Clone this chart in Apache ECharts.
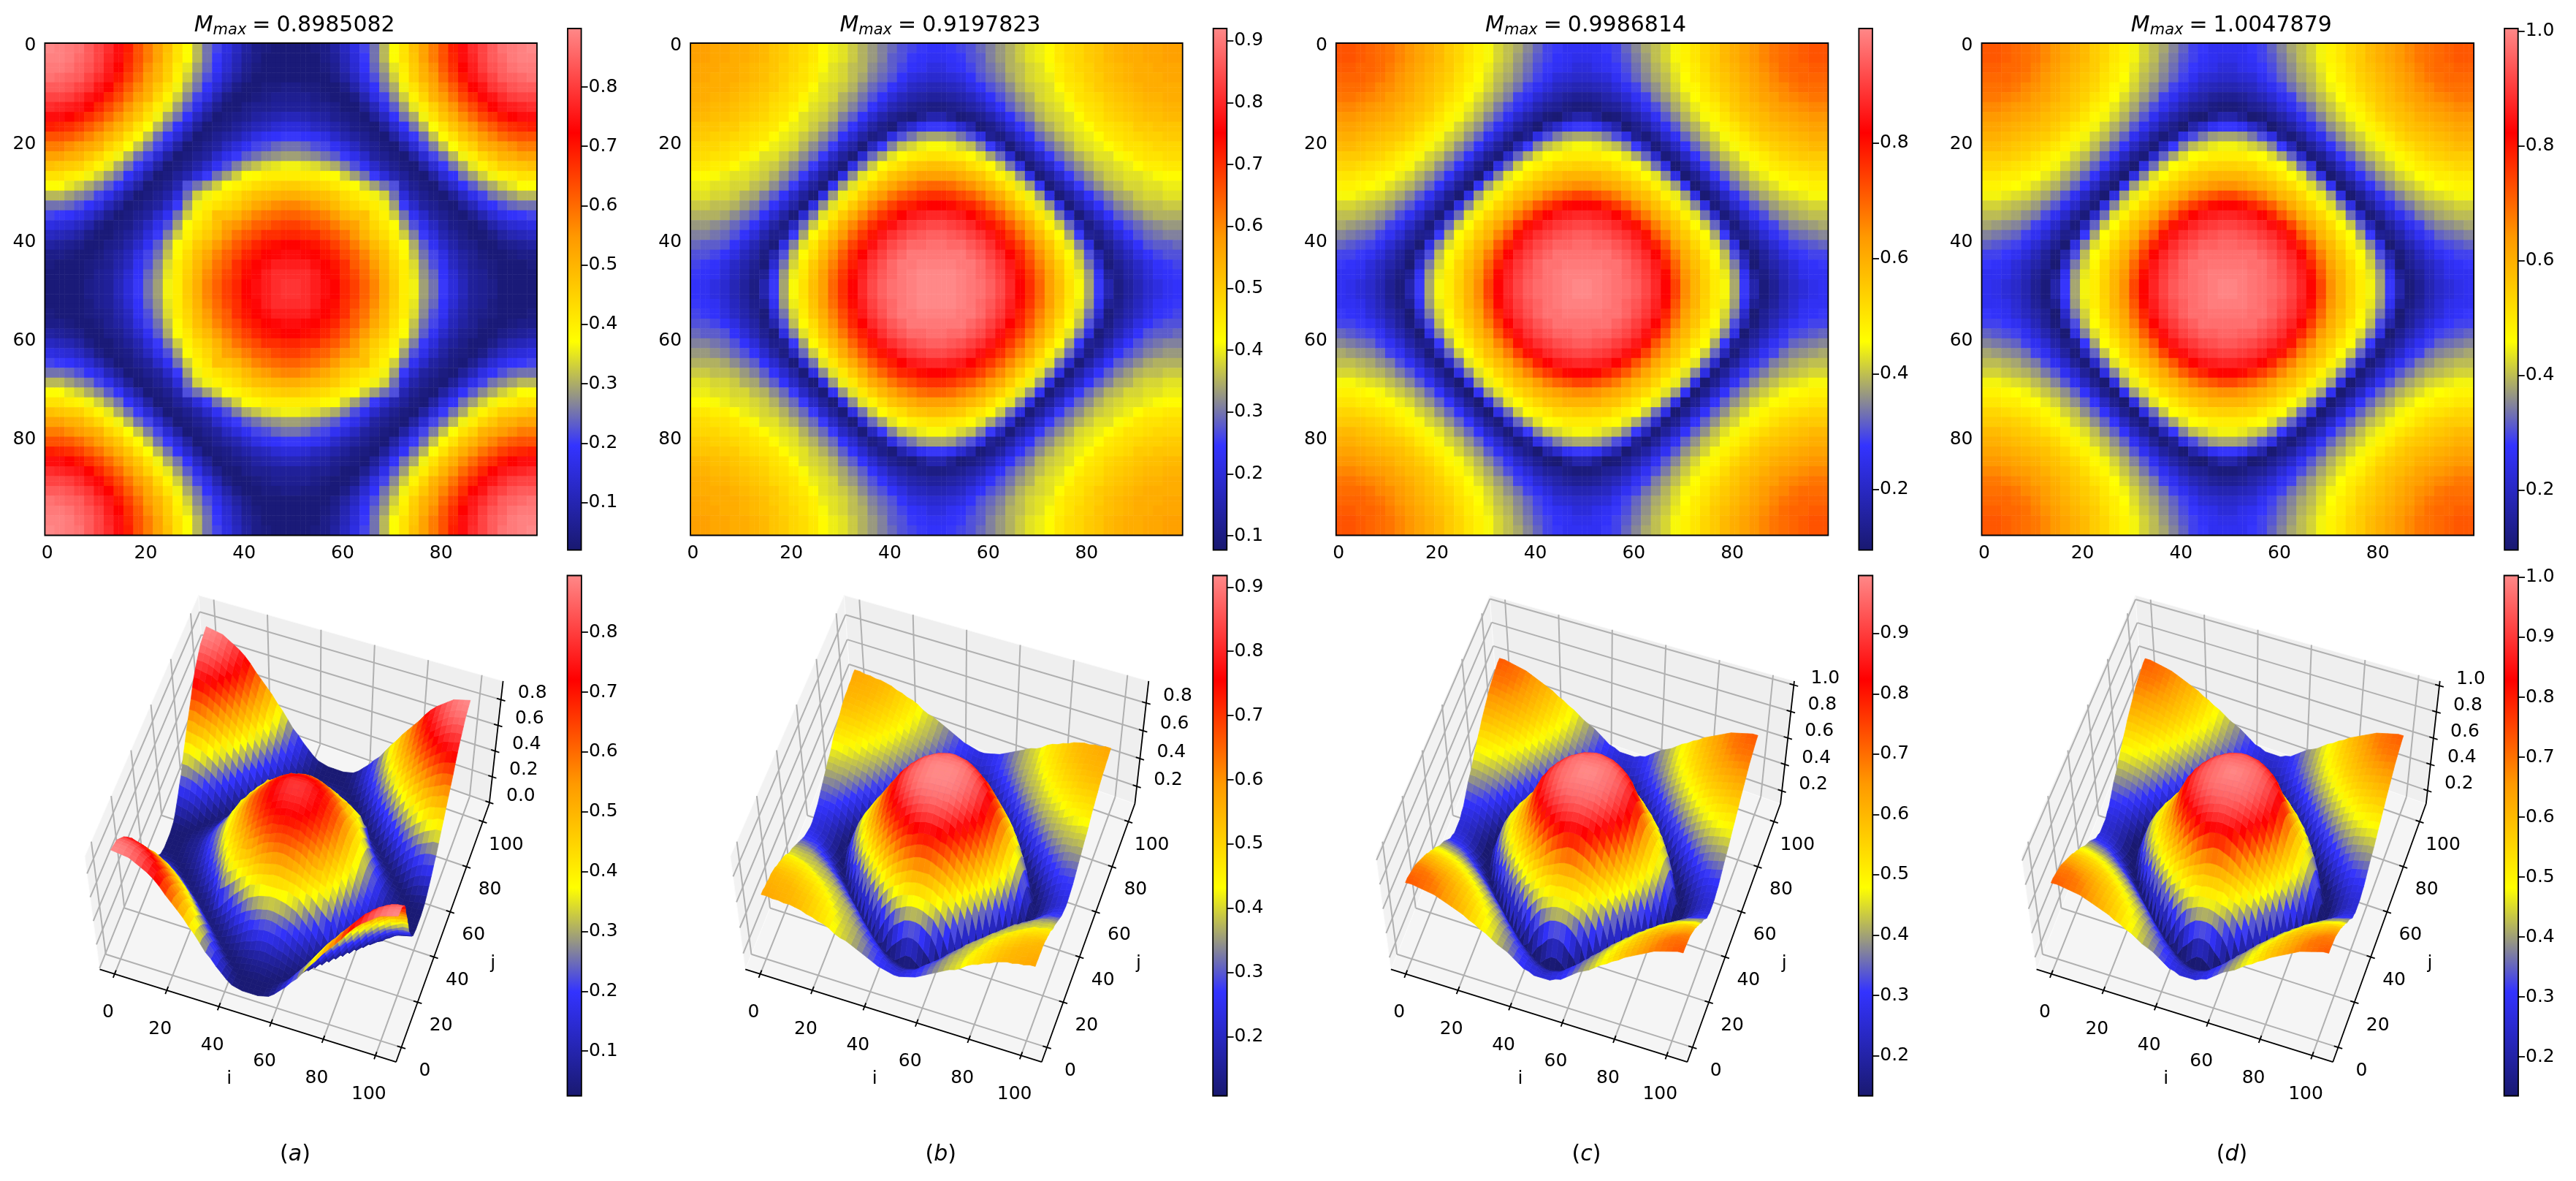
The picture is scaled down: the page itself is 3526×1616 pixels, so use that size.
<!DOCTYPE html>
<html>
<head>
<meta charset="utf-8">
<title>M max panels</title>
<script src="https://cdn.jsdelivr.net/npm/echarts@6/dist/echarts.min.js"></script>
<style>
  html, body { margin: 0; background: #fff; }
  #main { width: 3526px; height: 1616px; }
</style>
</head>
<body>
<div id="main"></div>
<script>
// values, in hundredths. one quadrant only (the field is mirrored),
// upper triangle, row k starts at column k. a cell covers two indices of the 100x100 grid
const quadrantA = [
  [90,89,88,87,84,81,78,74,69,63,58,53,48,42,37,31,25,21,16,12,8,5,4,3,3],
  [89,88,86,84,81,77,74,68,63,58,53,47,42,37,31,25,20,15,11,7,5,3,3,3],
  [87,85,83,80,76,72,67,62,56,51,46,40,35,29,24,19,14,10,6,4,3,3,3],
  [84,81,78,75,70,65,60,54,50,45,39,33,27,22,17,12,8,5,3,3,3,3],
  [79,75,72,67,62,57,52,47,42,36,30,25,19,14,9,5,3,3,4,4,5],
  [73,68,64,59,54,50,44,39,33,27,21,16,10,5,3,3,4,5,6,6],
  [64,60,55,50,45,40,35,29,23,17,11,6,3,3,5,6,6,7,7],
  [56,51,47,42,36,30,25,19,12,7,3,4,5,6,8,9,10,11],
  [47,42,37,31,25,19,13,7,3,4,5,7,9,11,12,14,15],
  [38,32,25,20,14,8,3,4,6,8,10,13,16,18,19,20],
  [26,21,14,8,3,4,6,8,12,15,18,21,22,24,25],
  [14,8,3,4,6,8,13,17,20,23,25,27,28,29],
  [3,4,6,9,13,18,22,26,30,32,34,35,36],
  [7,10,15,20,25,29,33,37,38,40,40,40],
  [22,25,29,33,37,39,41,43,44,45,46],
  [33,36,39,41,43,46,48,49,50,51],
  [40,42,44,46,49,52,54,56,57],
  [48,48,50,54,57,59,60,61],
  [53,55,58,61,62,64,65],
  [59,62,64,67,67,68],
  [65,68,70,71,72],
  [70,72,73,74],
  [74,76,76],
  [78,78],
  [79]
];
const quadrantB = [
  [57,57,56,56,55,55,54,53,51,50,48,47,45,42,40,39,37,35,33,31,29,27,26,25,24],
  [57,56,56,55,55,54,53,51,50,48,47,45,42,40,39,37,35,33,31,28,27,25,24,23],
  [56,55,55,54,53,52,51,49,48,46,44,41,39,38,36,35,32,30,28,26,24,23,21],
  [55,55,54,53,52,50,49,47,46,44,40,39,38,36,34,31,29,27,24,21,20,19],
  [54,53,52,51,50,48,46,45,42,39,38,37,35,32,29,27,24,21,18,17,16],
  [52,51,50,48,47,46,43,40,39,38,35,33,30,27,24,20,17,15,14,13],
  [50,49,47,46,44,41,39,38,36,34,31,28,24,20,16,14,12,11,10],
  [48,46,45,42,39,38,37,35,31,28,24,19,15,12,10,9,12,15],
  [45,42,40,39,37,35,32,28,24,19,14,11,9,15,19,23,25],
  [40,39,37,35,32,29,24,19,14,10,12,21,27,30,33,34],
  [38,35,32,29,25,18,14,9,17,25,31,36,38,40,41],
  [32,29,25,18,13,9,19,29,34,39,42,44,45,46],
  [25,18,13,9,21,30,37,42,45,47,50,51,52],
  [13,9,21,32,39,43,47,51,53,55,57,57],
  [23,33,39,45,49,53,56,59,61,63,64],
  [40,45,50,55,58,62,65,67,69,70],
  [50,55,60,64,68,71,72,74,75],
  [60,65,69,72,75,78,79,80],
  [70,73,77,80,82,83,84],
  [78,81,83,85,86,87],
  [84,86,88,88,89],
  [88,90,90,90],
  [90,91,91],
  [92,92],
  [92]
];
const quadrantC = [
  [72,72,71,70,69,68,66,64,62,60,58,55,53,50,48,45,42,40,38,35,32,29,28,26,26],
  [72,71,70,69,68,66,64,62,60,58,55,53,50,48,45,42,40,37,34,31,29,27,26,25],
  [70,70,69,67,65,63,61,59,57,55,52,49,47,44,41,39,36,33,30,28,26,25,23],
  [69,68,66,64,62,60,58,56,54,51,49,46,43,40,38,35,32,29,26,23,22,21],
  [66,65,63,61,59,57,55,53,50,47,45,42,39,36,33,29,26,23,20,19,18],
  [63,62,60,58,56,54,51,49,46,43,40,37,34,29,26,22,19,17,15,14],
  [60,58,57,55,52,49,47,44,41,38,34,30,26,22,18,15,14,12,11],
  [57,55,53,50,47,45,42,39,35,31,26,21,17,14,11,10,14,17],
  [53,50,48,45,42,39,36,31,26,21,16,13,10,17,21,26,28],
  [48,45,42,40,36,32,26,21,15,11,14,24,30,34,37,38],
  [43,40,36,32,27,20,15,11,19,28,35,40,42,44,45],
  [36,32,27,20,14,11,21,32,38,43,46,47,49,49],
  [27,20,14,10,24,33,41,46,48,50,53,53,54],
  [14,10,24,35,43,46,50,53,56,57,59,59],
  [26,37,43,48,52,55,58,60,62,64,65],
  [44,48,53,57,59,63,67,70,72,74],
  [53,57,61,66,71,75,78,81,82],
  [61,67,72,78,82,85,86,87],
  [74,80,84,87,89,90,91],
  [85,88,90,92,93,94],
  [91,93,95,95,96],
  [95,97,97,97],
  [97,98,98],
  [99,99],
  [100]
];
// (c) and (d) can't be told apart at this reading precision
const quadrantD = quadrantC;

const panelNames = ['a', 'b', 'c', 'd'];
const titleValues = ['0.8985082', '0.9197823', '0.9986814', '1.0047879'];
const quadrants = [quadrantA, quadrantB, quadrantC, quadrantD];

const heatRanges = [[0.02, 0.8985], [0.077, 0.9198], [0.095, 0.9987], [0.096, 1.0048]];
const surfRanges = [[0.025, 0.895], [0.108, 0.918], [0.1335, 0.996], [0.135, 1.003]];
const heatBarTicks = [
  [0.1, 0.2, 0.3, 0.4, 0.5, 0.6, 0.7, 0.8],
  [0.1, 0.2, 0.3, 0.4, 0.5, 0.6, 0.7, 0.8, 0.9],
  [0.2, 0.4, 0.6, 0.8],
  [0.2, 0.4, 0.6, 0.8, 1.0]
];
const surfBarTicks = [
  [0.1, 0.2, 0.3, 0.4, 0.5, 0.6, 0.7, 0.8],
  [0.2, 0.3, 0.4, 0.5, 0.6, 0.7, 0.8, 0.9],
  [0.2, 0.3, 0.4, 0.5, 0.6, 0.7, 0.8, 0.9],
  [0.2, 0.3, 0.4, 0.5, 0.6, 0.7, 0.8, 0.9, 1.0]
];
const zLimits = [[-0.01, 0.945], [0.075, 0.958], [0.103, 1.03], [0.1, 1.035]];
const zTicks = [
  [0, 0.2, 0.4, 0.6, 0.8],
  [0.2, 0.4, 0.6, 0.8],
  [0.2, 0.4, 0.6, 0.8, 1.0],
  [0.2, 0.4, 0.6, 0.8, 1.0]
];
const ijTicks = [0, 20, 40, 60, 80, 100];
const cmapColors = ['#191970', '#3333ff', '#ffff00', '#ff9900', '#ff0000', '#ff8888'];

const FONT = '"DejaVu Sans"';
const TICK_SIZE = 25;
const panelDx = 883.7;
const iLim = [-5.7, 107.9];
const jLim = [-6.5, 107.9];
// box corners of panel (a) in page pixels: [w][v][u]
const boxCorners = [
  [[[136.5, 1326.4], [542.1, 1453.2]], [[282.4, 963.9], [669.7, 1099.8]]],
  [[[116.1, 1171.8], [577.9, 1274.7]], [[271.7, 814.6], [688.6, 931.9]]]
];

function cellValue(rows, k, l) {
  const a = Math.min(k, l), b = Math.max(k, l);
  return rows[a][b - a] / 100;
}
function clamp(v, r) { return Math.min(r[1], Math.max(r[0], v)); }
function lerp(a, b, t) { return [a[0] + (b[0] - a[0]) * t, a[1] + (b[1] - a[1]) * t]; }

function project(p, i, j, z) {
  const u = (i - iLim[0]) / (iLim[1] - iLim[0]);
  const v = (j - jLim[0]) / (jLim[1] - jLim[0]);
  const w = (z - zLimits[p][0]) / (zLimits[p][1] - zLimits[p][0]);
  const bottom = lerp(lerp(boxCorners[0][0][0], boxCorners[0][0][1], u), lerp(boxCorners[0][1][0], boxCorners[0][1][1], u), v);
  const top = lerp(lerp(boxCorners[1][0][0], boxCorners[1][0][1], u), lerp(boxCorners[1][1][0], boxCorners[1][1][1], u), v);
  const pt = lerp(bottom, top, w);
  return [pt[0] + panelDx * p, pt[1]];
}

const categories = [];
for (let n = 0; n < 100; n++) categories.push(String(n));

const grids = [], xAxes = [], yAxes = [], series = [], visualMaps = [], titles = [], frames = [];

function addFrame(left, top, width, height, lw) {
  frames.push({
    type: 'rect', z: 100, silent: true,
    shape: { x: left, y: top, width: width, height: height },
    style: { fill: 'none', stroke: '#000', lineWidth: lw }
  });
}

function addColorbar(left, top, width, height, range, ticks) {
  const idx = grids.length;
  grids.push({ left: left, top: top, width: width, height: height });
  xAxes.push({ gridIndex: idx, type: 'category', data: ['c'], show: false });
  yAxes.push({
    gridIndex: idx, type: 'value', position: 'right', min: range[0], max: range[1],
    splitLine: { show: false }, axisLine: { show: false },
    axisTick: { show: true, length: 9, customValues: ticks, lineStyle: { color: '#000', width: 1.8 } },
    axisLabel: {
      show: true, margin: 10, fontSize: TICK_SIZE, fontFamily: FONT, color: '#000', customValues: ticks,
      formatter: function (v) { return v.toFixed(1); }
    }
  });
  series.push({
    type: 'bar', xAxisIndex: idx, yAxisIndex: idx, barWidth: '100%', silent: true, data: [range[1]],
    itemStyle: {
      color: {
        type: 'linear', x: 0, y: 1, x2: 0, y2: 0,
        colorStops: cmapColors.map(function (c, n) { return { offset: n / (cmapColors.length - 1), color: c }; })
      }
    }
  });
  addFrame(left, top, width, height, 1.8);
}

// top row
panelNames.forEach(function (name, p) {
  const dx = panelDx * p;
  const left = 61.4 + dx, top = 59, size = 673.6, h = 673.5;
  const idx = grids.length;
  grids.push({ left: left, top: top, width: size, height: h });
  xAxes.push({
    gridIndex: idx, type: 'category', data: categories, position: 'bottom',
    axisLine: { show: false }, splitLine: { show: false },
    axisTick: { alignWithLabel: true, interval: 19, length: 9, lineStyle: { color: '#000', width: 1.8 } },
    axisLabel: { interval: 19, margin: 12, fontSize: TICK_SIZE, fontFamily: FONT, color: '#000' }
  });
  yAxes.push({
    gridIndex: idx, type: 'category', data: categories, inverse: true,
    axisLine: { show: false }, splitLine: { show: false },
    axisTick: { alignWithLabel: true, interval: 19, length: 9, lineStyle: { color: '#000', width: 1.8 } },
    axisLabel: { interval: 19, margin: 12, fontSize: TICK_SIZE, fontFamily: FONT, color: '#000' }
  });
  const cells = [];
  for (let x = 0; x < 100; x++) {
    for (let y = 0; y < 100; y++) {
      const k = Math.floor(Math.min(x, 99 - x) / 2), l = Math.floor(Math.min(y, 99 - y) / 2);
      cells.push([x, y, clamp(cellValue(quadrants[p], k, l), heatRanges[p])]);
    }
  }
  visualMaps.push({
    show: false, seriesIndex: series.length, dimension: 2,
    min: heatRanges[p][0], max: heatRanges[p][1], inRange: { color: cmapColors }
  });
  series.push({ type: 'heatmap', xAxisIndex: idx, yAxisIndex: idx, data: cells, silent: true, progressive: 0 });
  addFrame(left, top, size, h, 1.8);
  addColorbar(777 + dx, 39, 18.6, 713.6, heatRanges[p], heatBarTicks[p]);
  titles.push({
    text: '{m|M}{s|max}{e|=}{n|' + titleValues[p] + '}',
    left: left + size / 2, top: 14, textAlign: 'center',
    textStyle: {
      fontWeight: 'normal',
      rich: {
        m: { fontFamily: FONT, fontStyle: 'italic', fontWeight: 'normal', fontSize: 30, color: '#000' },
        s: { fontFamily: FONT, fontStyle: 'italic', fontWeight: 'normal', fontSize: 21, color: '#000', verticalAlign: 'bottom', padding: [12, 0, 0, 0] },
        e: { fontFamily: FONT, fontWeight: 'normal', fontSize: 30, color: '#000', padding: [0, 8, 0, 8] },
        n: { fontFamily: FONT, fontWeight: 'normal', fontSize: 30, color: '#000' }
      }
    }
  });
  titles.push({
    text: '{n|(}{m|' + name + '}{n|)}',
    left: 399 + dx, top: 1560, textAlign: 'center',
    textStyle: {
      fontWeight: 'normal',
      rich: {
        m: { fontFamily: FONT, fontStyle: 'italic', fontWeight: 'normal', fontSize: 30, color: '#000' },
        n: { fontFamily: FONT, fontWeight: 'normal', fontSize: 30, color: '#000' }
      }
    }
  });
});

// bottom row: surfaces share one hidden page-sized grid
const pageGrid = grids.length;
grids.push({ left: 0, top: 0, width: 3526, height: 1616 });
xAxes.push({ gridIndex: pageGrid, type: 'value', min: 0, max: 3526, show: false });
yAxes.push({ gridIndex: pageGrid, type: 'value', min: 0, max: 1616, inverse: true, show: false });

function boxItem(p, api) {
  const P = function (i, j, z) { return api.coord(project(p, i, j, z)); };
  const zl = zLimits[p];
  const children = [];
  const poly = function (pts, fill) {
    children.push({ type: 'polygon', shape: { points: pts }, style: { fill: fill, stroke: '#fbfbfb', lineWidth: 1 } });
  };
  const line = function (a, b, color, w) {
    children.push({ type: 'line', shape: { x1: a[0], y1: a[1], x2: b[0], y2: b[1] }, style: { stroke: color, lineWidth: w } });
  };
  const label = function (pt, dx, dy, text) {
    children.push({
      type: 'text',
      style: { text: text, x: pt[0] + dx, y: pt[1] + dy, fill: '#000', fontSize: TICK_SIZE, fontFamily: FONT, align: 'center', verticalAlign: 'middle' }
    });
  };
  const i0 = iLim[0], i1 = iLim[1], j0 = jLim[0], j1 = jLim[1], z0 = zl[0], z1 = zl[1];
  poly([P(i0, j0, z0), P(i1, j0, z0), P(i1, j1, z0), P(i0, j1, z0)], '#f5f5f5');
  poly([P(i0, j0, z0), P(i0, j1, z0), P(i0, j1, z1), P(i0, j0, z1)], '#f2f2f2');
  poly([P(i0, j1, z0), P(i1, j1, z0), P(i1, j1, z1), P(i0, j1, z1)], '#efefef');
  const gridColor = '#b0b0b0', gw = 2;
  ijTicks.forEach(function (t) {
    line(P(t, j0, z0), P(t, j1, z0), gridColor, gw);
    line(P(t, j1, z0), P(t, j1, z1), gridColor, gw);
    line(P(i0, t, z0), P(i1, t, z0), gridColor, gw);
    line(P(i0, t, z0), P(i0, t, z1), gridColor, gw);
  });
  zTicks[p].forEach(function (t) {
    line(P(i0, j0, t), P(i0, j1, t), gridColor, gw);
    line(P(i0, j1, t), P(i1, j1, t), gridColor, gw);
  });
  line(P(i0, j0, z0), P(i1, j0, z0), '#000', 1.8);
  line(P(i1, j0, z0), P(i1, j1, z0), '#000', 1.8);
  line(P(i1, j1, z0), P(i1, j1, z1), '#000', 1.8);
  ijTicks.forEach(function (t) {
    const base = P(t, j0, z0);
    line(P(t, j0 + 1.6, z0), P(t, j0 - 1.6, z0), '#000', 1.8);
    label(base, -9, 53, String(t));
    const baseJ = P(i1, t, z0);
    line(P(i1 - 1.6, t, z0), P(i1 + 1.6, t, z0), '#000', 1.8);
    label(baseJ, 32, 32, String(t));
  });
  zTicks[p].forEach(function (t) {
    const base = P(i1, j1, t);
    line(P(i1 - 1.6, j1, t), P(i1 + 1.6, j1, t), '#000', 1.8);
    label(base, 43, -9, t.toFixed(1));
  });
  const origin = api.coord([panelDx * p, 0]);
  const ox = origin[0], oy = origin[1];
  children.push({ type: 'text', style: { text: 'i', x: ox + 313.6, y: oy + 1476.7, fill: '#000', fontSize: TICK_SIZE, fontFamily: FONT, align: 'center', verticalAlign: 'middle' } });
  children.push({ type: 'text', style: { text: 'j', x: ox + 674.8, y: oy + 1318.4, fill: '#000', fontSize: TICK_SIZE, fontFamily: FONT, align: 'center', verticalAlign: 'middle' } });
  return { type: 'group', children: children };
}

panelNames.forEach(function (name, p) {
  const dx = panelDx * p;
  const rows = quadrants[p];
  const zl = zLimits[p];
  // vertices sit at 0.5, 2.5, ... 98.5, same cells as the image above
  const pos = [], zz = [];
  for (let a = 0; a < 50; a++) {
    pos.push(0.5 + 2 * a);
    const row = [];
    for (let b = 0; b < 50; b++) {
      row.push(cellValue(rows, a < 25 ? a : 49 - a, b < 25 ? b : 49 - b));
    }
    zz.push(row);
  }
  const quads = [];
  for (let a = 0; a < 49; a++) {
    for (let b = 0; b < 49; b++) {
      const mean = (zz[a][b] + zz[a + 1][b] + zz[a][b + 1] + zz[a + 1][b + 1]) / 4;
      const u = (pos[a] + 1 - iLim[0]) / (iLim[1] - iLim[0]);
      const v = (pos[b] + 1 - jLim[0]) / (jLim[1] - jLim[0]);
      const w = (mean - zl[0]) / (zl[1] - zl[0]);
      quads.push([a, b, clamp(mean, surfRanges[p]), u * 0.17 - v * 0.47 + w * 0.65]);
    }
  }
  quads.sort(function (q, r) { return q[3] - r[3]; });

  series.push({
    type: 'custom', xAxisIndex: pageGrid, yAxisIndex: pageGrid, silent: true, clip: false,
    data: [[0, 0]],
    renderItem: function (params, api) { return boxItem(p, api); }
  });
  visualMaps.push({
    show: false, seriesIndex: series.length, dimension: 2,
    min: surfRanges[p][0], max: surfRanges[p][1], inRange: { color: cmapColors }
  });
  series.push({
    type: 'custom', xAxisIndex: pageGrid, yAxisIndex: pageGrid, silent: true, clip: false, progressive: 0,
    data: quads,
    encode: { x: 0, y: 1 },
    renderItem: function (params, api) {
      const a = api.value(0), b = api.value(1);
      const pts = [
        api.coord(project(p, pos[a], pos[b], zz[a][b])),
        api.coord(project(p, pos[a + 1], pos[b], zz[a + 1][b])),
        api.coord(project(p, pos[a + 1], pos[b + 1], zz[a + 1][b + 1])),
        api.coord(project(p, pos[a], pos[b + 1], zz[a][b + 1]))
      ];
      const color = api.visual('color');
      return { type: 'polygon', shape: { points: pts }, style: { fill: color, stroke: color, lineWidth: 0.7 } };
    }
  });
  addColorbar(776.5 + dx, 787.5, 19.4, 712, surfRanges[p], surfBarTicks[p]);
});

const chart = echarts.init(document.getElementById('main'));
chart.setOption({
  animation: false,
  backgroundColor: '#fff',
  title: titles,
  grid: grids,
  xAxis: xAxes,
  yAxis: yAxes,
  visualMap: visualMaps,
  series: series,
  graphic: frames
});
</script>
</body>
</html>
